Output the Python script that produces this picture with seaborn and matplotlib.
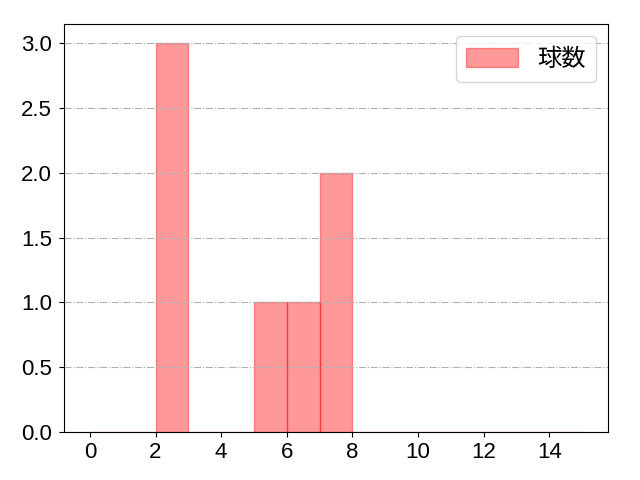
import matplotlib
matplotlib.use("Agg")
import matplotlib.pyplot as plt
import seaborn as sns
import numpy as np
import pandas as pd

sns.set_style("ticks")
plt.rcParams['font.family'] = ['Liberation Sans', 'Noto Sans CJK JP', 'DejaVu Sans']
plt.rcParams['text.color'] = 'black'
plt.rcParams['xtick.color'] = 'black'
plt.rcParams['ytick.color'] = 'black'
plt.rcParams['axes.edgecolor'] = 'black'

values = [2, 2, 2, 5, 6, 7, 7]
bin_edges = list(range(0, 16))
label = "球数"
xticks = [0, 2, 4, 6, 8, 10, 12, 14]

df = pd.DataFrame({"v": values})

fig, ax = plt.subplots(figsize=(6.4, 4.8), dpi=100)
sns.histplot(data=df, x="v", bins=bin_edges, stat="count",
             color="red", alpha=0.4, edgecolor=(1, 0, 0, 0.4), linewidth=1,
             label=label, ax=ax)
ax.set_axisbelow(False)
ax.grid(axis="y", linestyle="-.", color="#b0b0b0", linewidth=0.8)
ax.set_xlim(-0.79, 15.79)
ax.set_ylim(0, 3.15)
ax.set_xticks(xticks)
ax.set_yticks(np.arange(0, 3.01, 0.5))
ax.set_yticklabels([f"{t:.1f}" for t in np.arange(0, 3.01, 0.5)])
ax.set_xlabel("")
ax.set_ylabel("")
ax.tick_params(labelsize=16, labelcolor='black')
ax.tick_params(axis='y', pad=5)
ax.legend(loc="upper right", prop={'family': ['Noto Sans CJK JP'], 'size': 17.5},
          handlelength=2.15, handleheight=0.78)
fig.subplots_adjust(left=0.1, right=0.95, top=0.95, bottom=0.1)
fig.savefig("out.png", dpi=100)
